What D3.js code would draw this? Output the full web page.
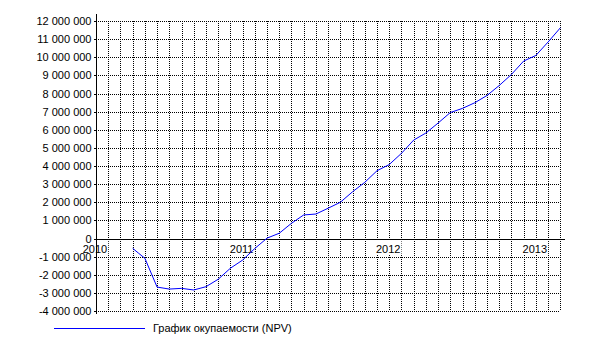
<!DOCTYPE html>
<html><head><meta charset="utf-8">
<script src="https://cdn.jsdelivr.net/npm/d3@7"></script>
<style>
body{margin:0;background:#fff;}
svg{display:block;font-family:"Liberation Sans",Arial,sans-serif;}
</style></head>
<body>
<svg id="chart" width="600" height="359"></svg>
<script>
const dates = ["2010-04-01","2010-04-16","2010-05-01","2010-06-01","2010-07-01","2010-08-01","2010-09-01","2010-10-01","2010-11-01","2010-12-01",
"2011-01-01","2011-02-01","2011-03-01","2011-04-01","2011-05-01","2011-06-01","2011-07-01","2011-08-01","2011-09-01","2011-10-01","2011-11-01","2011-12-01",
"2012-01-01","2012-02-01","2012-03-01","2012-04-01","2012-05-01","2012-06-01","2012-07-01","2012-08-01","2012-09-01","2012-10-01","2012-11-01","2012-12-01",
"2013-01-01","2013-02-01","2013-03-01"];
const npv = [-540000,-820000,-1090000,-2680000,-2790000,-2750000,-2840000,-2660000,-2250000,-1640000,
-1190000,-550000,20000,290000,840000,1300000,1350000,1670000,2000000,2580000,3100000,3740000,
4080000,4700000,5430000,5820000,6370000,6950000,7180000,7490000,7890000,8440000,9050000,9790000,
10100000,10840000,11620000];
const yTicks = [-4000000,-3000000,-2000000,-1000000,0,1000000,2000000,3000000,4000000,5000000,6000000,7000000,8000000,9000000,10000000,11000000,12000000];
const yearLabels = ["2010","2011","2012","2013"];
const seriesName = "График окупаемости (NPV)";

(function(){
const svg = d3.select("#chart");
const pL = 96, pR = 560.3, pT = 21, pB = 311;
const startYear = 2010;
function monthIndex(s){const [yy,m,d]=s.split("-").map(Number);return (yy-startYear)*12+(m-1)+(d-1)/30;}
const x = d3.scaleLinear().domain([0,38]).range([pL,pR]);
const y = d3.scaleLinear().domain([-4000000,12000000]).range([pB,pT]);

svg.append("g").selectAll("line").data(yTicks).join("line")
  .attr("x1",pL).attr("x2",pR)
  .attr("y1",d=>Math.round(y(d))+0.5).attr("y2",d=>Math.round(y(d))+0.5)
  .attr("stroke","#000").attr("stroke-dasharray","1,1").attr("shape-rendering","crispEdges");
const months = d3.range(1,39);
svg.append("g").selectAll("line").data(months).join("line")
  .attr("x1",d=>Math.round(x(d))+0.5).attr("x2",d=>Math.round(x(d))+0.5)
  .attr("y1",pT).attr("y2",pB)
  .attr("stroke","#000").attr("stroke-dasharray","1,1").attr("shape-rendering","crispEdges");

// year labels with white background
const y0 = Math.round(y(0));
const yl = svg.append("g").selectAll("g").data(yearLabels).join("g");
yl.append("text")
  .attr("x",(d,i)=>x(i*12)-1).attr("y",y0+14)
  .attr("text-anchor","middle").attr("font-size","11px").attr("fill","#000")
  .text(d=>d);
yl.each(function(){
  const g = d3.select(this), t = g.select("text"), b = t.node().getBBox();
  g.insert("rect","text").attr("x",b.x-1).attr("y",y0+2).attr("width",b.width+2)
   .attr("height",13).attr("fill","#fff");
});

const fmt = d=>d3.format(",")(d).replace(/,/g," ").replace("−","-");
const yAxis = svg.append("g").attr("transform",`translate(${pL+0.5},0)`)
  .call(d3.axisLeft(y).tickValues(yTicks).tickSize(3).tickSizeOuter(0).tickFormat(fmt));
yAxis.select(".domain").remove();
yAxis.selectAll(".tick line").attr("stroke","#000").attr("shape-rendering","crispEdges");
yAxis.selectAll(".tick text").attr("x",-5).attr("fill","#000")
  .style("font-family","'Liberation Sans',Arial,sans-serif").style("font-size","11px");
svg.append("line").attr("x1",pL+0.5).attr("x2",pL+0.5).attr("y1",14).attr("y2",314)
  .attr("stroke","#000").attr("shape-rendering","crispEdges");

svg.append("line").attr("x1",pL).attr("x2",565)
  .attr("y1",y0+0.5).attr("y2",y0+0.5)
  .attr("stroke","#000").attr("shape-rendering","crispEdges");

const pts = dates.map((d,i)=>[monthIndex(d),npv[i]]);
svg.append("path").datum(pts)
  .attr("fill","none").attr("stroke","#0000ff").attr("stroke-width",1)
  .attr("d",d3.line().x(d=>x(d[0])).y(d=>y(d[1])));

svg.append("line").attr("x1",54).attr("x2",145).attr("y1",328.5).attr("y2",328.5)
  .attr("stroke","#0000ff").attr("shape-rendering","crispEdges");
svg.append("text").attr("x",153).attr("y",332).attr("font-size","11px").attr("fill","#000").text(seriesName);
})();
</script>
</body></html>
